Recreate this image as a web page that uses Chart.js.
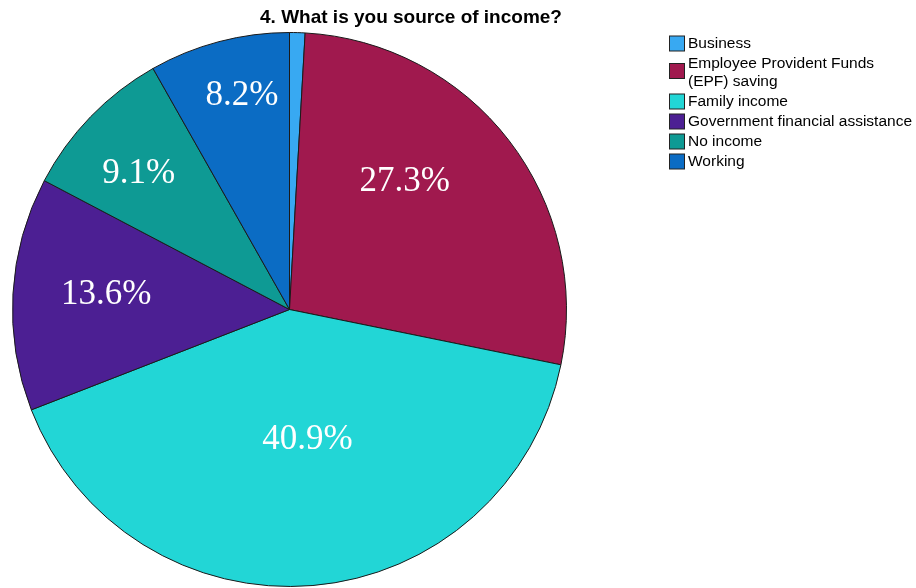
<!DOCTYPE html>
<html>
<head>
<meta charset="utf-8">
<script src="https://cdn.jsdelivr.net/npm/chart.js@4/dist/chart.umd.min.js"></script>
<style>
  body { margin: 0; background: #fff; }
</style>
</head>
<body>
<canvas id="pie-chart" width="916" height="588"></canvas>
<script>
// survey answers, share of respondents (%)
var categories = ["Business", "Employee Provident Funds (EPF) saving", "Family income",
                  "Government financial assistance", "No income", "Working"];
var shares = [0.9, 27.3, 40.9, 13.6, 9.1, 8.2];
var shareLabels = ["", "27.3%", "40.9%", "13.6%", "9.1%", "8.2%"];
var chartTitle = "4. What is you source of income?";

var colors = ["#38a9f2", "#a0194e", "#22d6d6", "#4c1f93", "#0e9a94", "#0b6cc4"];
// where each percentage sits: [fraction of radius, fraction along the slice]
var labelSpot = [[0, 0.5], [0.627, 0.39], [0.467, 0.479], [0.664, 0.538], [0.737, 0.447], [0.798, 0.58]];
// legend lines, long names wrapped
var legendLines = [["Business"], ["Employee Provident Funds", "(EPF) saving"], ["Family income"],
                   ["Government financial assistance"], ["No income"], ["Working"]];

var sliceLabels = {
  id: "sliceLabels",
  afterDatasetsDraw: function(chart) {
    var ctx = chart.ctx;
    var arcs = chart.getDatasetMeta(0).data;
    ctx.save();
    ctx.fillStyle = "#ffffff";
    ctx.font = "35px 'Liberation Serif', 'Times New Roman', serif";
    ctx.textAlign = "center";
    ctx.textBaseline = "middle";
    arcs.forEach(function(arc, i) {
      if (!shareLabels[i]) return;
      var p = arc.getProps(["x", "y", "startAngle", "endAngle", "outerRadius"], true);
      var a = p.startAngle + (p.endAngle - p.startAngle) * labelSpot[i][1];
      var r = p.outerRadius * labelSpot[i][0];
      ctx.fillText(shareLabels[i], p.x + Math.cos(a) * r, p.y + Math.sin(a) * r + 2);
    });
    ctx.restore();
  }
};

var titleAndLegend = {
  id: "titleAndLegend",
  afterDraw: function(chart) {
    var ctx = chart.ctx;
    ctx.save();
    ctx.fillStyle = "#000";
    ctx.font = "bold 19px 'Liberation Sans', Arial, sans-serif";
    ctx.textAlign = "center";
    ctx.textBaseline = "middle";
    ctx.fillText(chartTitle, 411, 18);

    ctx.font = "15.5px 'Liberation Sans', Arial, sans-serif";
    ctx.textAlign = "left";
    var y = 43;
    legendLines.forEach(function(lines, i) {
      var boxMid = y + (lines.length - 1) * 7.5;
      ctx.fillStyle = colors[i];
      ctx.fillRect(669.5, boxMid - 7, 15, 15);
      ctx.strokeStyle = "#222";
      ctx.lineWidth = 1;
      ctx.strokeRect(669.5, boxMid - 7, 15, 15);
      ctx.fillStyle = "#000";
      lines.forEach(function(t, k) {
        ctx.fillText(t, 688, y + 1 + k * 18);
      });
      y += 20 + (lines.length - 1) * 18;
    });
    ctx.restore();
  }
};

new Chart(document.getElementById("pie-chart"), {
  type: "pie",
  data: {
    labels: categories,
    datasets: [{
      data: shares,
      backgroundColor: colors,
      borderColor: "#1a1a1a",
      borderWidth: 1
    }]
  },
  options: {
    responsive: false,
    animation: false,
    layout: { padding: { left: 12, right: 349, top: 32, bottom: 1 } },
    plugins: {
      legend: { display: false },
      tooltip: { enabled: false }
    }
  },
  plugins: [sliceLabels, titleAndLegend]
});
</script>
</body>
</html>
